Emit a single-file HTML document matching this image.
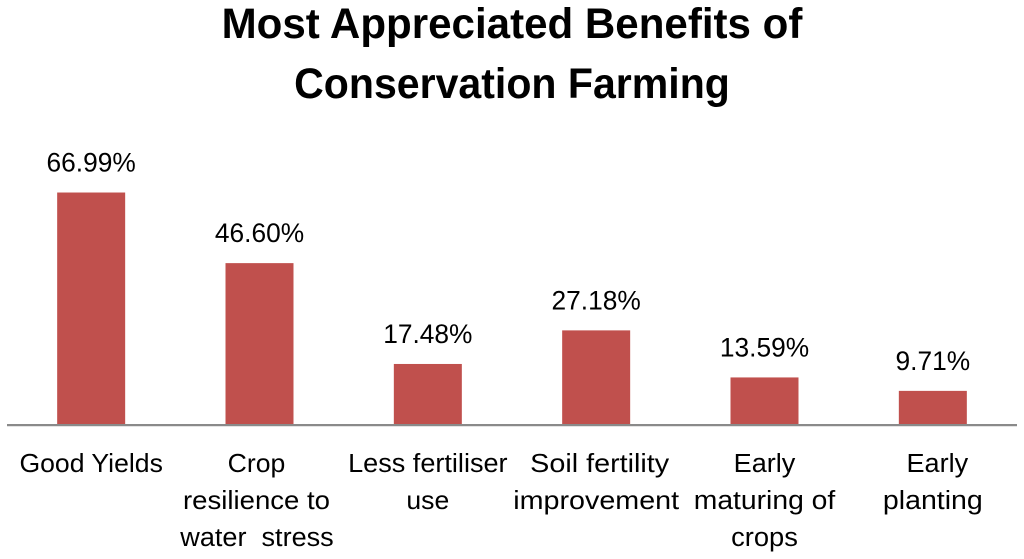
<!DOCTYPE html>
<html>
<head>
<meta charset="utf-8">
<style>
html,body{margin:0;padding:0;background:#fff;}
svg{display:block;}
text{font-family:"Liberation Sans",sans-serif;fill:#000;}
</style>
</head>
<body>
<svg id="chart" width="1024" height="559" viewBox="0 0 1024 559" xmlns="http://www.w3.org/2000/svg">
<g font-weight="bold" font-size="43" text-anchor="middle">
<text transform="translate(512 38) scale(0.979 1)">Most Appreciated Benefits of</text>
<text transform="translate(512 98) scale(0.955 1)">Conservation Farming</text>
</g>
<g id="bars"></g>
<g id="values"></g>
<line x1="7" x2="1017" y1="426.5" y2="426.5" stroke="#e4e4e4" stroke-width="1"/>
<line x1="7" x2="1017" y1="425" y2="425" stroke="#8a8a8a" stroke-width="2"/>
<g id="cats"></g>
</svg>
<script>
const categories = [
  ["Good Yields"],
  ["Crop", "resilience to", "water\u00A0 stress"],
  ["Less fertiliser", "use"],
  ["Soil fertility", "improvement"],
  ["Early", "maturing of", "crops"],
  ["Early", "planting"]
];
const values = [66.99, 46.60, 17.48, 27.18, 13.59, 9.71];

const NS = "http://www.w3.org/2000/svg";
const plotLeft = 7, plotRight = 1017, baseY = 424.5, pxPerUnit = 3.463, barW = 68;
const xScale = i => plotLeft + (plotRight - plotLeft) / categories.length * (i + 0.5);
const yScale = v => baseY - v * pxPerUnit;
/* Horizontal fit for each rendered line (layout only), compensating for font metrics */
const lineFit = {
  "Good Yields": 1.1, "Crop": 1.1, "resilience to": 1.14, "water\u00A0 stress": 1.12,
  "Less fertiliser": 1.12, "use": 1.1, "Soil fertility": 1.19, "improvement": 1.187,
  "Early": 1.12, "maturing of": 1.17, "crops": 1.13, "planting": 1.18
};
/* Small per-line centring nudges (layout only), keyed by category and line index */
const lineNudge = { "1-0": -3, "1-1": -3, "1-2": -2.5, "3-0": 3.5, "5-0": 4.5 };
const barsG = document.getElementById("bars");
const valuesG = document.getElementById("values");
const catsG = document.getElementById("cats");

values.forEach((v, i) => {
  const cx = xScale(i);
  const rect = document.createElementNS(NS, "rect");
  
  
  rect.setAttribute("x", cx - barW / 2);
  rect.setAttribute("y", yScale(v));
  rect.setAttribute("width", barW);
  rect.setAttribute("height", baseY - yScale(v));
  rect.setAttribute("fill", "#c0504d");
  barsG.appendChild(rect);

  const val = document.createElementNS(NS, "text");
  
  
  val.setAttribute("transform", `translate(${cx} ${yScale(v) - 21}) scale(0.975 1)`);
  val.setAttribute("text-anchor", "middle");
  val.setAttribute("font-size", "27");
  val.textContent = v.toFixed(2) + "%";
  valuesG.appendChild(val);

  categories[i].forEach((line, j) => {
    const t = document.createElementNS(NS, "text");
    
    
    const nudge = lineNudge[i + "-" + j] || 0;
    t.setAttribute("transform", `translate(${cx + nudge} ${472 + j * 37}) scale(${0.93 * (lineFit[line] || 1.1)} 1)`);
    t.setAttribute("text-anchor", "middle");
    t.setAttribute("font-size", "26");
    t.textContent = line;
    catsG.appendChild(t);
  });
});
</script>
</body>
</html>
